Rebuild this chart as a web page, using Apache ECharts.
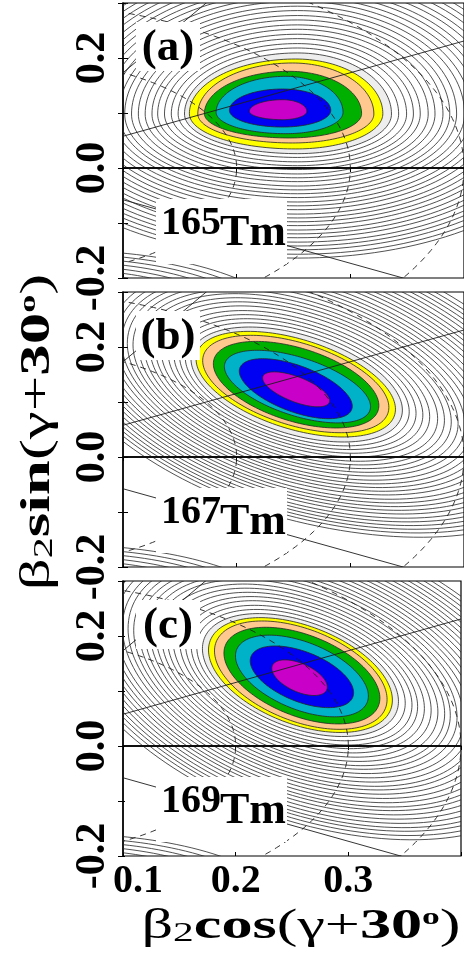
<!DOCTYPE html>
<html>
<head>
<meta charset="utf-8">
<script src="https://cdn.jsdelivr.net/npm/echarts@6/dist/echarts.min.js"></script>
<style>
  html, body { margin: 0; padding: 0; background: #fff; }
  #chart { width: 464px; height: 957px; }
</style>
</head>
<body>
<div id="chart"></div>
<script>
// panel tags and nuclei
const panelTags = ['(a)', '(b)', '(c)'];
const nuclei = [['165', 'Tm'], ['167', 'Tm'], ['169', 'Tm']];

// axes
const xRange = [0.1, 0.4];
const yRange = [-0.2, 0.3];
const xTickLabels = ['0.1', '0.2', '0.3'];
const yTickLabels = ['-0.2', '0.0', '0.2'];

// filled contours, outermost (grey) to innermost (magenta): [cx, cy, left, right, top, bottom, shear]
const coreA = [
  [0.2535, 0.0982, 0.0994, 0.0827, 0.111, 0.0721, 0],
  [0.252, 0.0988, 0.0936, 0.0766, 0.0994, 0.0642, 0],
  [0.2491, 0.0982, 0.0833, 0.0716, 0.0927, 0.0527, 0],
  [0.2462, 0.0988, 0.0746, 0.0637, 0.077, 0.0442, 0],
  [0.2433, 0.1012, 0.0614, 0.0503, 0.0655, 0.0388, 0],
  [0.2404, 0.1048, 0.0468, 0.0424, 0.0388, 0.0303, 0],
  [0.2404, 0.103, 0.0292, 0.0213, 0.0212, 0.0152, 0]
];
const coreB = [
  [0.2528, 0.1318, 0.093, 0.093, 0.0936, 0.0936, -0.5],
  [0.252, 0.1324, 0.0877, 0.0877, 0.0846, 0.0846, -0.518],
  [0.252, 0.1327, 0.0819, 0.0819, 0.0777, 0.0777, -0.518],
  [0.2523, 0.1315, 0.0728, 0.0728, 0.069, 0.069, -0.52],
  [0.2535, 0.128, 0.0643, 0.0643, 0.0551, 0.0551, -0.565],
  [0.252, 0.1242, 0.0497, 0.0497, 0.0443, 0.0443, -0.64],
  [0.2523, 0.123, 0.0295, 0.0295, 0.0242, 0.0242, -0.698]
];
const coreC = [
  [0.2575, 0.129, 0.087, 0.087, 0.101, 0.101, -0.55],
  [0.2575, 0.129, 0.0816, 0.0816, 0.094, 0.094, -0.557],
  [0.2578, 0.1288, 0.0766, 0.0766, 0.0881, 0.0881, -0.575],
  [0.2588, 0.128, 0.0692, 0.0692, 0.0778, 0.0778, -0.59],
  [0.2588, 0.1273, 0.059, 0.059, 0.0647, 0.0647, -0.617],
  [0.2588, 0.1258, 0.0459, 0.0459, 0.048, 0.048, -0.63],
  [0.2567, 0.1242, 0.0246, 0.0246, 0.0276, 0.0276, -0.69]
];

// black contour lines outside the grey band: [left, right, top, bottom]
const outerCenter = [[0.2535, 0.0982, 0], [0.2528, 0.1318, -0.5], [0.2575, 0.129, -0.55]];
const outerA = [
  [0.105, 0.089, 0.120, 0.079], [0.111, 0.096, 0.128, 0.087], [0.117, 0.102, 0.137, 0.094],
  [0.123, 0.108, 0.145, 0.101], [0.128, 0.115, 0.154, 0.109], [0.134, 0.121, 0.162, 0.116],
  [0.140, 0.128, 0.171, 0.123], [0.146, 0.134, 0.179, 0.131], [0.152, 0.140, 0.188, 0.138],
  [0.157, 0.147, 0.196, 0.145], [0.163, 0.153, 0.205, 0.152], [0.169, 0.160, 0.213, 0.160],
  [0.175, 0.166, 0.222, 0.167], [0.181, 0.172, 0.230, 0.174], [0.186, 0.179, 0.239, 0.182],
  [0.192, 0.185, 0.247, 0.189], [0.198, 0.192, 0.256, 0.196], [0.204, 0.198, 0.264, 0.203],
  [0.210, 0.204, 0.273, 0.211], [0.215, 0.211, 0.281, 0.218], [0.221, 0.217, 0.290, 0.225],
  [0.227, 0.224, 0.298, 0.233], [0.233, 0.230, 0.307, 0.240], [0.239, 0.236, 0.315, 0.247],
  [0.244, 0.243, 0.324, 0.255], [0.250, 0.249, 0.332, 0.262]
];
const outerB = [
  [0.098, 0.099, 0.101, 0.100], [0.103, 0.105, 0.108, 0.106], [0.108, 0.111, 0.115, 0.112],
  [0.113, 0.117, 0.122, 0.118], [0.119, 0.124, 0.130, 0.125], [0.124, 0.130, 0.137, 0.131],
  [0.129, 0.136, 0.144, 0.137], [0.134, 0.142, 0.151, 0.143], [0.139, 0.148, 0.158, 0.149],
  [0.144, 0.154, 0.166, 0.156], [0.149, 0.160, 0.173, 0.162], [0.154, 0.166, 0.180, 0.168],
  [0.159, 0.172, 0.187, 0.174], [0.164, 0.178, 0.194, 0.180], [0.170, 0.185, 0.202, 0.187],
  [0.175, 0.191, 0.209, 0.193], [0.180, 0.197, 0.216, 0.199], [0.185, 0.203, 0.223, 0.205],
  [0.190, 0.209, 0.230, 0.211], [0.195, 0.215, 0.238, 0.218], [0.200, 0.221, 0.245, 0.224],
  [0.205, 0.227, 0.252, 0.230], [0.210, 0.233, 0.259, 0.236], [0.215, 0.239, 0.266, 0.242],
  [0.221, 0.246, 0.274, 0.249]
];
const outerC = [
  [0.092, 0.093, 0.108, 0.108], [0.097, 0.099, 0.115, 0.115], [0.102, 0.104, 0.123, 0.121],
  [0.107, 0.110, 0.130, 0.128], [0.113, 0.116, 0.137, 0.135], [0.118, 0.122, 0.144, 0.142],
  [0.123, 0.128, 0.151, 0.149], [0.128, 0.133, 0.159, 0.155], [0.133, 0.139, 0.166, 0.162],
  [0.138, 0.145, 0.173, 0.169], [0.143, 0.151, 0.180, 0.176], [0.148, 0.157, 0.187, 0.183],
  [0.153, 0.162, 0.195, 0.189], [0.158, 0.168, 0.202, 0.196], [0.164, 0.174, 0.209, 0.203],
  [0.169, 0.180, 0.216, 0.210], [0.174, 0.186, 0.223, 0.217], [0.179, 0.191, 0.231, 0.223],
  [0.184, 0.197, 0.238, 0.230], [0.189, 0.203, 0.245, 0.237], [0.194, 0.209, 0.252, 0.244],
  [0.199, 0.215, 0.259, 0.251], [0.204, 0.220, 0.267, 0.257], [0.209, 0.226, 0.274, 0.264],
  [0.215, 0.232, 0.281, 0.271]
];

// contours of the second minimum below each panel: [half width, half height]
const mirrorCenter = [[0.05, -0.30], [0.05, -0.31], [0.05, -0.31]];
const mirrorRings = [
  [0.20, 0.150], [0.19, 0.143], [0.18, 0.136], [0.17, 0.129],
  [0.16, 0.122], [0.15, 0.115], [0.14, 0.108], [0.13, 0.101]
];

// reference lines: gamma (deg) rays and beta2 circles
const gammaLines = [30, 0, -60];
const betaCircles = [0.2, 0.3, 0.4];

const cores = [coreA, coreB, coreC];
const outers = [outerA, outerB, outerC];

const coreColors = ['#EEEEEE', '#FFFF00', '#FFC88E', '#00B000', '#00B2C8', '#0000F2', '#C800C8'];
const FONT = '"Liberation Serif", "DejaVu Serif", serif';
const panelTop = [3, 292, 581];
const panelH = 275;

function ringItems(i) {
  const oc = outerCenter[i], mc = mirrorCenter[i];
  const items = [];
  outers[i].forEach(r => items.push([oc[0], oc[1], r[0], r[1], r[2], r[3], oc[2], -1]));
  mirrorRings.forEach(r => items.push([mc[0], mc[1], r[0], r[0], r[1], r[1], 0, -1]));
  cores[i].forEach((r, k) => items.push(r.concat([k])));
  return items;
}

function renderRing(params, api) {
  const cx = api.value(0), cy = api.value(1);
  const L = api.value(2), R = api.value(3), T = api.value(4), B = api.value(5);
  const s = api.value(6), ci = api.value(7);
  const pts = [];
  const n = 160;
  for (let k = 0; k < n; k++) {
    const t = k / n * Math.PI * 2;
    const c = Math.cos(t), sn = Math.sin(t);
    const dx = (c >= 0 ? R : L) * c;
    const dy = (sn >= 0 ? T : B) * sn;
    pts.push(api.coord([cx + dx, cy + dy + s * dx]));
  }
  return {
    type: 'polygon',
    shape: {points: pts},
    style: {
      fill: ci >= 0 ? coreColors[ci] : 'none',
      stroke: '#262626',
      lineWidth: 0.8
    }
  };
}

function renderRay(params, api) {
  const a = (api.value(0) + 30) * Math.PI / 180;
  const p0 = api.coord([0, 0]);
  const p1 = api.coord([0.8 * Math.cos(a), 0.8 * Math.sin(a)]);
  return {
    type: 'line',
    shape: {x1: p0[0], y1: p0[1], x2: p1[0], y2: p1[1]},
    style: {stroke: '#1e1e1e', lineWidth: 0.9}
  };
}

function renderCircle(params, api) {
  const r = api.value(0);
  const pts = [];
  for (let k = -90; k <= 90; k += 1) {
    const a = k * Math.PI / 180;
    pts.push(api.coord([r * Math.cos(a), r * Math.sin(a)]));
  }
  return {
    type: 'polyline',
    shape: {points: pts},
    style: {stroke: '#1e1e1e', lineWidth: 0.9, lineDash: [6, 5], fill: 'none'}
  };
}

const grids = [], xAxes = [], yAxes = [], series = [];
for (let i = 0; i < 3; i++) {
  grids.push({
    left: 123, right: -1, top: panelTop[i], height: panelH,
    show: true, borderColor: '#000', borderWidth: 1.2, backgroundColor: 'transparent'
  });
  const last = i === 2;
  xAxes.push({
    gridIndex: i, type: 'value', position: 'bottom', min: xRange[0], max: xRange[1], interval: 0.1,
    axisLine: {show: true, lineStyle: {color: '#000', width: 1.5}},
    axisTick: {show: true, inside: false, length: 4, lineStyle: {color: '#000', width: 1}},
    splitLine: {show: false},
    axisLabel: {
      show: last, margin: 6, color: '#000', fontFamily: FONT, fontWeight: 'bold', fontSize: 40,
      showMinLabel: true, showMaxLabel: true,
      formatter: v => {
        const t = v.toFixed(1);
        if (!xTickLabels.includes(t)) return '';
        return t === xTickLabels[0] ? '{first|' + t + '}' : t;
      },
      rich: {first: {fontFamily: FONT, fontWeight: 'bold', fontSize: 40, color: '#000', padding: [0, 0, 0, 30]}}
    }
  });
  xAxes.push({
    gridIndex: i, type: 'value', position: 'top', offset: -panelH, min: xRange[0], max: xRange[1], interval: 0.1,
    axisLine: {show: false},
    axisTick: {show: true, inside: false, length: 4, lineStyle: {color: '#000', width: 1}},
    axisLabel: {show: false}, splitLine: {show: false}
  });
  yAxes.push({
    gridIndex: i, type: 'value', position: 'left', min: yRange[0], max: yRange[1], interval: 0.1,
    axisLine: {show: true, lineStyle: {color: '#000', width: 1.5}},
    axisTick: {show: true, inside: false, length: 5, lineStyle: {color: '#000', width: 1}},
    splitLine: {show: false},
    axisLabel: {
      show: true, rotate: 90, margin: 9, color: '#000', fontFamily: FONT, fontWeight: 'bold', fontSize: 42,
      showMinLabel: true, showMaxLabel: true,
      formatter: v => {
        const t = (Math.abs(v) < 1e-9 ? 0 : v).toFixed(1);
        return yTickLabels.includes(t) ? t : '';
      }
    }
  });
  yAxes.push({
    gridIndex: i, type: 'value', position: 'right', offset: -341, min: yRange[0], max: yRange[1], interval: 0.1,
    axisLine: {show: false},
    axisTick: {show: true, inside: false, length: 5, lineStyle: {color: '#000', width: 1}},
    axisLabel: {show: false}, splitLine: {show: false}
  });

  series.push({
    type: 'custom', name: 'pes' + i, xAxisIndex: 2 * i, yAxisIndex: 2 * i, clip: true, z: 2,
    renderItem: renderRing, data: ringItems(i), silent: true
  });
  series.push({
    type: 'custom', name: 'gamma' + i, xAxisIndex: 2 * i, yAxisIndex: 2 * i, clip: true, z: 3,
    renderItem: renderRay, data: gammaLines.map(g => [g, 0]), silent: true,
    markLine: {
      silent: true, symbol: 'none', label: {show: false},
      lineStyle: {color: '#000', width: 1.5, type: 'solid'},
      data: [{yAxis: 0}]
    }
  });
  series.push({
    type: 'custom', name: 'beta' + i, xAxisIndex: 2 * i, yAxisIndex: 2 * i, clip: true, z: 3,
    renderItem: renderCircle, data: betaCircles.map(b => [b, 0]), silent: true
  });
}

const graphics = [];
panelTags.forEach((tag, i) => {
  const dy = panelTop[i] - panelTop[0];
  graphics.push({type: 'rect', z: 100, shape: {x: 136, y: 22 + dy, width: 64, height: 49}, style: {fill: '#fff'}});
  graphics.push({type: 'text', z: 101, x: 168, y: 48 + dy,
    style: {text: tag, font: 'bold 45px ' + FONT, fill: '#000', align: 'center', verticalAlign: 'middle', textAlign: 'center', textVerticalAlign: 'middle'}});
  graphics.push({type: 'rect', z: 100, shape: {x: 156, y: 199 + dy, width: 131, height: 65}, style: {fill: '#fff'}});
  graphics.push({type: 'text', z: 101, x: 161, y: 224 + dy,
    style: {text: nuclei[i][0], font: 'bold 40px ' + FONT, fill: '#000', align: 'left', verticalAlign: 'middle', textAlign: 'left', textVerticalAlign: 'middle'}});
  graphics.push({type: 'text', z: 101, x: 220, y: 234 + dy,
    style: {text: nuclei[i][1], font: 'bold 44px ' + FONT, fill: '#000', align: 'left', verticalAlign: 'middle', textAlign: 'left', textVerticalAlign: 'middle'}});
});

const titleRich = {
  n: {fontFamily: FONT, fontSize: 42, fontWeight: 'normal', color: '#000'},
  b: {fontFamily: FONT, fontSize: 42, fontWeight: 'bold', color: '#000'},
  sub: {fontFamily: FONT, fontSize: 28, fontWeight: 'normal', color: '#000', verticalAlign: 'bottom'},
  sup: {fontFamily: FONT, fontSize: 24, fontWeight: 'bold', color: '#000', verticalAlign: 'top'}
};
graphics.push({
  type: 'text', z: 101, x: 301, y: 927, scaleX: 1.48,
  style: {text: '{n|β}{sub|2}{b|cos}{n|(γ+}{b|30}{sup|o}{n|)}', rich: titleRich,
    align: 'center', verticalAlign: 'middle', textAlign: 'center', textVerticalAlign: 'middle'}
});
graphics.push({
  type: 'text', z: 101, x: 38, y: 432, rotation: Math.PI / 2, scaleX: 1.5,
  style: {text: '{n|β}{sub|2}{b|sin}{n|(γ+}{b|30}{sup|o}{n|)}', rich: titleRich,
    align: 'center', verticalAlign: 'middle', textAlign: 'center', textVerticalAlign: 'middle'}
});

const chart = echarts.init(document.getElementById('chart'), null, {renderer: 'canvas'});
chart.setOption({
  animation: false,
  backgroundColor: '#fff',
  grid: grids,
  xAxis: xAxes,
  yAxis: yAxes,
  series: series,
  graphic: graphics
});
</script>
</body>
</html>
